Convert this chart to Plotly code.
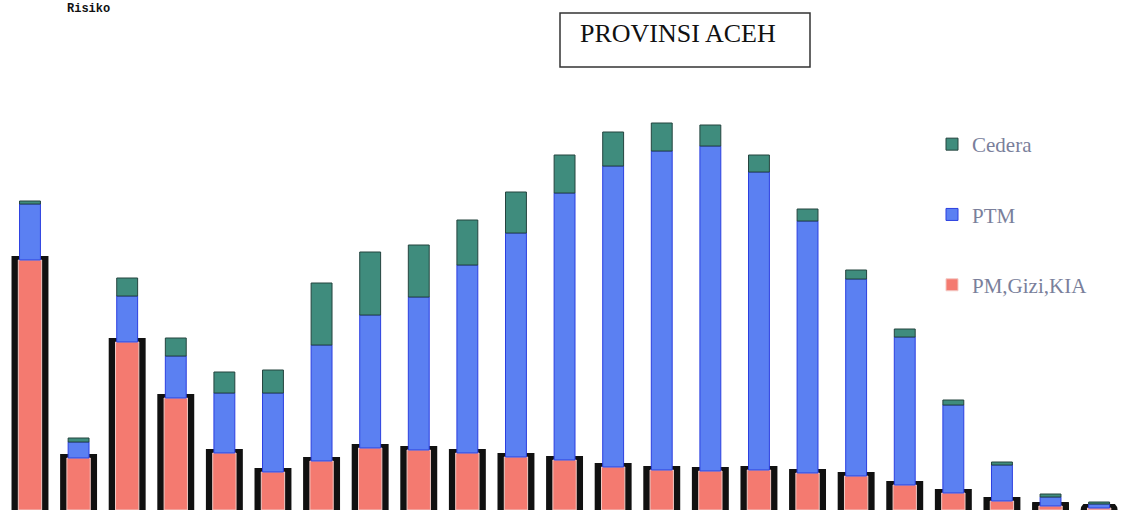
import plotly.graph_objects as go

# Stacked composition per group (same units for all three series)
groups = list(range(1, 24))
pm_gizi_kia = [250, 52, 168, 112, 57, 38, 49, 62, 60, 57, 53, 50, 43, 40, 39, 40, 37, 34, 25, 17, 9, 4, 2]
ptm = [56, 16, 46, 42, 60, 79, 116, 133, 153, 188, 224, 267, 301, 319, 325, 298, 252, 197, 148, 88, 36, 9, 4]
cedera = [3, 4, 18, 18, 21, 23, 62, 63, 52, 45, 41, 38, 34, 28, 21, 17, 12, 9, 8, 5, 3, 3, 2]

W, H = 1121, 510
x = list(range(len(groups)))

red = "#F47A70"
blue = "#5B80F2"
teal = "#3F8C7D"

ptm_base = pm_gizi_kia
cedera_base = [a + b for a, b in zip(pm_gizi_kia, ptm)]
shadow = [v + 4 for v in pm_gizi_kia]

fig = go.Figure()

# dark rounded casing behind the lower segment
fig.add_trace(go.Bar(
    x=x, y=shadow, width=0.76, marker=dict(color="#111111", line=dict(width=0), cornerradius=10),
    showlegend=False, hoverinfo="skip",
))
fig.add_trace(go.Bar(
    x=x, y=pm_gizi_kia, width=0.48, name="PM,Gizi,KIA",
    marker=dict(color=red, line=dict(color="#f3c9c4", width=1)),
    legendgroup="c", legendrank=3,
))
fig.add_trace(go.Bar(
    x=x, y=ptm, base=ptm_base, width=0.43, name="PTM",
    marker=dict(color=blue, line=dict(color="#2B3FE0", width=1)),
    legendgroup="b", legendrank=2,
))
fig.add_trace(go.Bar(
    x=x, y=cedera, base=cedera_base, width=0.43, name="Cedera",
    marker=dict(color=teal, line=dict(color="#24443F", width=1)),
    legendgroup="a", legendrank=1,
))

# title box
fig.add_shape(type="rect", xref="paper", yref="paper",
              x0=560 / W, x1=810 / W, y0=(H - 67) / H, y1=(H - 13) / H,
              line=dict(color="#333333", width=1.5), fillcolor="white")
fig.add_annotation(text="PROVINSI ACEH", xref="paper", yref="paper",
                   x=678 / W, y=(H - 34) / H, xanchor="center", yanchor="middle", showarrow=False,
                   font=dict(family="Liberation Serif", size=26, color="#111111"))
fig.add_annotation(text="<b>Risiko</b>", xref="paper", yref="paper",
                   x=65 / W, y=1, xanchor="left", yanchor="top", showarrow=False,
                   font=dict(family="Liberation Mono", size=12, color="#111111"))

fig.update_layout(
    width=W, height=H,
    barmode="overlay",
    margin=dict(l=0, r=0, t=0, b=0),
    paper_bgcolor="white", plot_bgcolor="white",
    xaxis=dict(range=[-0.617, 22.45], visible=False),
    yaxis=dict(range=[0, 510], visible=False),
    legend=dict(
        x=932 / W, y=(H - 124) / H, xanchor="left", yanchor="top",
        font=dict(family="Liberation Serif", size=21, color="#7A7F9B"),
        tracegroupgap=40, bgcolor="rgba(0,0,0,0)",
    ),
)

fig.write_html("out.html")
